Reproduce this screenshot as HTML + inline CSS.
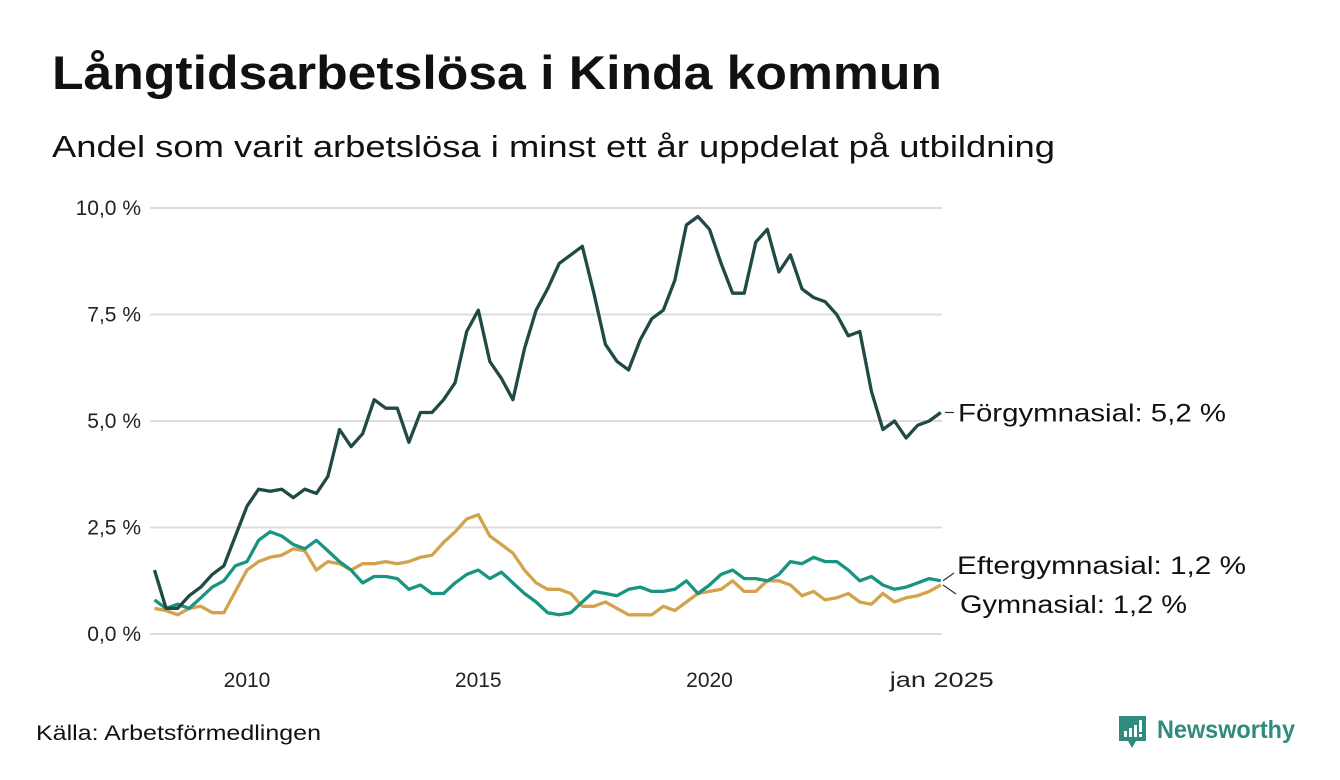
<!DOCTYPE html>
<html><head><meta charset="utf-8">
<style>
body{margin:0;background:#fff;width:1340px;height:780px;overflow:hidden;font-family:"Liberation Sans",sans-serif;color:#111;}
svg{position:absolute;left:0;top:0}
</style></head>
<body>
<svg id="chart" width="1340" height="780">
<text x="52" y="89" font-size="47" font-weight="bold" fill="#111" textLength="890" lengthAdjust="spacingAndGlyphs">Långtidsarbetslösa i Kinda kommun</text>
<text x="52" y="157" font-size="31" fill="#111" textLength="1003" lengthAdjust="spacingAndGlyphs">Andel som varit arbetslösa i minst ett år uppdelat på utbildning</text>
<g id="grid"></g><g id="lines"></g>
<text x="36" y="740" font-size="21" fill="#111" textLength="285" lengthAdjust="spacingAndGlyphs">Källa: Arbetsförmedlingen</text>
<g>
<path d="M1119 716 h27 v25 h-10 l-4 7 l-4 -7 h-9 z" fill="#2e8b7e"/>
<rect x="1124" y="731" width="3" height="6" fill="#fff"/><rect x="1129" y="728" width="3" height="9" fill="#fff"/><rect x="1134" y="725" width="3" height="12" fill="#fff"/><rect x="1139" y="720" width="3" height="12" fill="#fff"/><rect x="1139" y="734" width="3" height="3" fill="#fff"/>
<text x="1157" y="738" font-size="25" font-weight="bold" fill="#2e8b7e" textLength="138" lengthAdjust="spacingAndGlyphs">Newsworthy</text>
</g>
</svg>
<script>
const yTicks=[0,2.5,5,7.5,10];
const yTickLabels=["0,0 %","2,5 %","5,0 %","7,5 %","10,0 %"];
const xTicks=[2010,2015,2020,2025];
const xTickLabels=["2010","2015","2020","jan 2025"];
const startYear=2008.0, stepYear=0.25;
const forgymnasial=[1.5,0.6,0.6,0.9,1.1,1.4,1.6,2.3,3.0,3.4,3.35,3.4,3.2,3.4,3.3,3.7,4.8,4.4,4.7,5.5,5.3,5.3,4.5,5.2,5.2,5.5,5.9,7.1,7.6,6.4,6.0,5.5,6.7,7.6,8.1,8.7,8.9,9.1,8.0,6.8,6.4,6.2,6.9,7.4,7.6,8.3,9.6,9.8,9.5,8.7,8.0,8.0,9.2,9.5,8.5,8.9,8.1,7.9,7.8,7.5,7.0,7.1,5.7,4.8,5.0,4.6,4.9,5.0,5.2];
const eftergymnasial=[0.8,0.6,0.7,0.6,0.85,1.1,1.25,1.6,1.7,2.2,2.4,2.3,2.1,2.0,2.2,1.95,1.7,1.5,1.2,1.35,1.35,1.3,1.05,1.15,0.95,0.95,1.2,1.4,1.5,1.3,1.45,1.2,0.95,0.75,0.5,0.45,0.5,0.75,1.0,0.95,0.9,1.05,1.1,1.0,1.0,1.05,1.25,0.95,1.15,1.4,1.5,1.3,1.3,1.25,1.4,1.7,1.65,1.8,1.7,1.7,1.5,1.25,1.35,1.15,1.05,1.1,1.2,1.3,1.25];
const gymnasial=[0.6,0.55,0.45,0.6,0.65,0.5,0.5,1.0,1.5,1.7,1.8,1.85,2.0,1.95,1.5,1.7,1.65,1.5,1.65,1.65,1.7,1.65,1.7,1.8,1.85,2.15,2.4,2.7,2.8,2.3,2.1,1.9,1.5,1.2,1.05,1.05,0.95,0.65,0.65,0.75,0.6,0.45,0.45,0.45,0.65,0.55,0.75,0.95,1.0,1.05,1.25,1.0,1.0,1.25,1.25,1.15,0.9,1.0,0.8,0.85,0.95,0.75,0.7,0.95,0.75,0.85,0.9,1.0,1.15];
const X=y=>247+(y-2010)*46.25;
const Y=v=>634-v*42.6;
const NS="http://www.w3.org/2000/svg";
const grid=document.getElementById('grid'), lines=document.getElementById('lines');
function mk(tag,attrs,parent){const e=document.createElementNS(NS,tag);for(const k in attrs)e.setAttribute(k,attrs[k]);parent.appendChild(e);return e;}
yTicks.forEach((t,i)=>{
 const l=mk('line',{x1:150,x2:942,y1:Y(t),y2:Y(t),stroke:'#dcdcdc','stroke-width':2},grid);
 
 
 const tx=mk('text',{x:141,y:Y(t)+7,'text-anchor':'end','font-size':21,fill:'#222'},grid);
 tx.textContent=yTickLabels[i];
 
 
});
xTicks.forEach((t,i)=>{
 const tx=mk('text',{x:i==3?X(t)+1:X(t),y:687,'text-anchor':'middle','font-size':21,fill:'#222'},grid);
 tx.textContent=xTickLabels[i];
 if(i==3){tx.setAttribute('textLength',104);tx.setAttribute('lengthAdjust','spacingAndGlyphs');}
 
 
});
function draw(vals,color,name){
 const d=vals.map((v,i)=>(i?'L':'M')+X(startYear+i*stepYear).toFixed(1)+' '+Y(v).toFixed(1)).join(' ');
 const p=mk('path',{d:d,fill:'none',stroke:color,'stroke-width':3.3,'stroke-linejoin':'round'},lines);
 
 
}
draw(gymnasial,'#d4a24c','line-gymnasial');
draw(eftergymnasial,'#1a9482','line-eftergymnasial');
draw(forgymnasial,'#1f4a45','line-forgymnasial');
const lastF=forgymnasial[forgymnasial.length-1], lastE=eftergymnasial[eftergymnasial.length-1], lastG=gymnasial[gymnasial.length-1];
mk('line',{x1:945,x2:954,y1:Y(lastF),y2:Y(lastF),stroke:'#333','stroke-width':1.2},lines);
mk('line',{x1:943,x2:954,y1:Y(lastE),y2:573,stroke:'#333','stroke-width':1.2},lines);
mk('line',{x1:943,x2:956,y1:Y(lastG),y2:594,stroke:'#333','stroke-width':1.2},lines);
const labs=[["Förgymnasial: 5,2 %",Y(lastF)+9,'label-forgymnasial',958,268],["Eftergymnasial: 1,2 %",574,'label-eftergymnasial',957,289],["Gymnasial: 1,2 %",613,'label-gymnasial',960,227]];
labs.forEach(([t,y,n,x,w])=>{
 const tx=mk('text',{x:x,y:y,'font-size':25,fill:'#111',textLength:w,lengthAdjust:'spacingAndGlyphs'},lines);
 tx.textContent=t;
 
 
});
</script>
</body></html>
